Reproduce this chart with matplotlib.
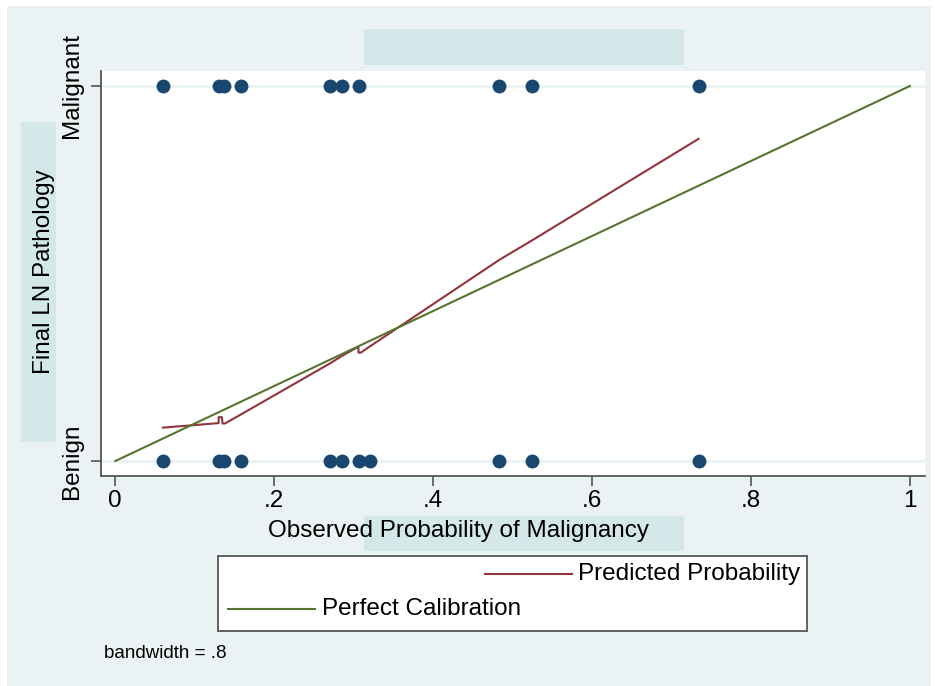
import matplotlib
matplotlib.use("Agg")
import matplotlib.pyplot as plt
from matplotlib.patches import Rectangle
from matplotlib.lines import Line2D

plt.rcParams['font.family'] = ['Liberation Sans', 'DejaVu Sans']

# Observed outcomes (scatter rows) by predicted risk
malignant_x = [0.06, 0.13, 0.137, 0.158, 0.27, 0.285, 0.307, 0.483, 0.525, 0.734]
benign_x = [0.06, 0.13, 0.137, 0.158, 0.27, 0.285, 0.307, 0.32, 0.483, 0.525, 0.734]

# Lowess smooth of outcome on risk
pred_x = [0.06, 0.130, 0.130, 0.134, 0.135, 0.138, 0.158, 0.270, 0.285, 0.306, 0.306,
          0.309, 0.320, 0.483, 0.525, 0.734]
pred_y = [0.089, 0.101, 0.117, 0.117, 0.100, 0.100, 0.124, 0.260, 0.280, 0.305, 0.289,
          0.289, 0.305, 0.536, 0.589, 0.859]

# Reference diagonal
diag_x = [0, 1]
diag_y = [0, 1]

x_ticks = [0, 0.2, 0.4, 0.6, 0.8, 1]
x_ticklabels = ["0", ".2", ".4", ".6", ".8", "1"]
y_ticks = [0, 1]
y_ticklabels = ["Benign", "Malignant"]

W, H = 935, 686
NAVY = "#1a476f"
MAROON = "#90353b"
GREEN = "#55752f"
BG = "#eaf2f3"
TEAL = "#d4e7e9"
AXC = "#555555"
FS = 17.5

fig = plt.figure(figsize=(W / 100, H / 100), dpi=100)
fig.patch.set_facecolor("white")


def fx(px):
    return px / W


def fy(py):
    return 1 - py / H


def frect(x0, y0, x1, y1, **kw):
    """Rectangle in pixel coordinates measured from the top-left corner."""
    r = Rectangle((fx(x0), fy(y1)), (x1 - x0) / W, (y1 - y0) / H,
                  transform=fig.transFigure, **kw)
    fig.add_artist(r)
    return r


frect(7, 6, 931, 686, facecolor=BG, edgecolor="none", zorder=0)
frect(364, 29, 684, 65, facecolor=TEAL, edgecolor="none", zorder=1)
frect(21, 122, 56, 442, facecolor=TEAL, edgecolor="none", zorder=1)
frect(364, 516, 684, 551, facecolor=TEAL, edgecolor="none", zorder=1)

ax = fig.add_axes([fx(101), fy(476), (925 - 101) / W, (476 - 71) / H])
ax.set_facecolor("white")
ax.set_zorder(2)

ax.set_xlim(-0.018, 1.019)
ax.set_ylim(-0.04, 1.04)

for yv in y_ticks:
    ax.axhline(yv, color=BG, lw=2, zorder=1)

ax.plot(malignant_x, [1] * len(malignant_x), 'o', color=NAVY, ms=10, mew=0, zorder=3)
ax.plot(benign_x, [0] * len(benign_x), 'o', color=NAVY, ms=10, mew=0, zorder=3)
ax.plot(pred_x, pred_y, color=MAROON, lw=1.5, zorder=4)
ax.plot(diag_x, diag_y, color=GREEN, lw=1.5, zorder=4)

for s in ["top", "right"]:
    ax.spines[s].set_visible(False)
for s in ["left", "bottom"]:
    ax.spines[s].set_color(AXC)
    ax.spines[s].set_linewidth(1.3)

ax.set_xticks(x_ticks)
ax.set_xticklabels(x_ticklabels, fontsize=FS)
ax.set_yticks(y_ticks)
ax.set_yticklabels(y_ticklabels, fontsize=FS, rotation=90, va="center")
ax.tick_params(axis="both", length=7, width=1.2, color=AXC)
ax.tick_params(axis="x", pad=3)
ax.tick_params(axis="y", pad=6)

fig.text(fx(459), fy(531), "Observed Probability of Malignancy", fontsize=FS,
         ha="center", va="center", zorder=3)
fig.text(fx(44), fy(272), "Final LN Pathology", fontsize=FS, rotation=90,
         ha="center", va="center", zorder=3)

# Legend box drawn on the figure
frect(218, 556, 807, 631, facecolor="white", edgecolor=AXC, lw=1.3, zorder=3)
fig.add_artist(Line2D([fx(485), fx(572)], [fy(574)] * 2, color=MAROON, lw=1.5, zorder=4))
fig.text(fx(578), fy(574), "Predicted Probability", fontsize=FS, ha="left", va="center", zorder=4)
fig.add_artist(Line2D([fx(228), fx(315)], [fy(609)] * 2, color=GREEN, lw=1.5, zorder=4))
fig.text(fx(322), fy(609), "Perfect Calibration", fontsize=FS, ha="left", va="center", zorder=4)

fig.text(fx(104), fy(653), "bandwidth = .8", fontsize=13.5, ha="left", va="center", zorder=4)

fig.savefig("out.png", dpi=100, facecolor=fig.get_facecolor())
